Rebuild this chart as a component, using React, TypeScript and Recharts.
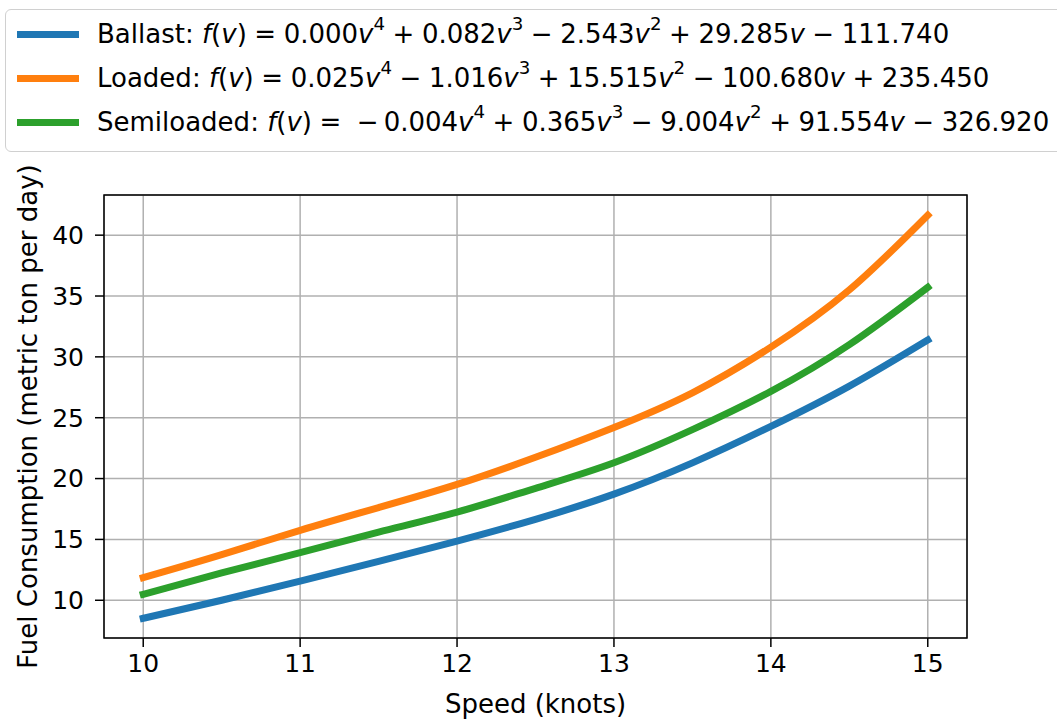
import React from "react";
import {
  LineChart,
  Line,
  XAxis,
  YAxis,
  CartesianGrid,
  ReferenceArea,
  Legend,
} from "recharts";

const speeds = [10, 10.5, 11, 11.5, 12, 12.5, 13, 13.5, 14, 14.5, 15];
const ballast = [8.52, 10.0, 11.58, 13.2, 14.86, 16.65, 18.72, 21.29, 24.29, 27.6, 31.39];
const loaded = [11.86, 13.75, 15.75, 17.62, 19.52, 21.75, 24.2, 27.05, 30.8, 35.5, 41.64];
const semiloaded = [10.49, 12.25, 13.91, 15.6, 17.24, 19.2, 21.3, 24.02, 27.16, 31.0, 35.71];

const xTicks = [10, 11, 12, 13, 14, 15];
const yTicks = [10, 15, 20, 25, 30, 35, 40];
const xDomain = [9.75, 15.25];
const yDomain = [6.9, 43.3];

const FONT = "'DejaVu Sans', sans-serif";

const data = speeds.map((s, i) => ({
  speed: s,
  ballast: ballast[i],
  loaded: loaded[i],
  semiloaded: semiloaded[i],
}));

type Term = { sign: string; coef: string; pow?: string; v?: boolean };

const legendRows: { name: string; color: string; terms: Term[] }[] = [
  {
    name: "Ballast",
    color: "#1f77b4",
    terms: [
      { sign: "", coef: "0.000", v: true, pow: "4" },
      { sign: "+", coef: "0.082", v: true, pow: "3" },
      { sign: "−", coef: "2.543", v: true, pow: "2" },
      { sign: "+", coef: "29.285", v: true },
      { sign: "−", coef: "111.740" },
    ],
  },
  {
    name: "Loaded",
    color: "#ff7f0e",
    terms: [
      { sign: "", coef: "0.025", v: true, pow: "4" },
      { sign: "−", coef: "1.016", v: true, pow: "3" },
      { sign: "+", coef: "15.515", v: true, pow: "2" },
      { sign: "−", coef: "100.680", v: true },
      { sign: "+", coef: "235.450" },
    ],
  },
  {
    name: "Semiloaded",
    color: "#2ca02c",
    terms: [
      { sign: "−", coef: "0.004", v: true, pow: "4" },
      { sign: "+", coef: "0.365", v: true, pow: "3" },
      { sign: "−", coef: "9.004", v: true, pow: "2" },
      { sign: "+", coef: "91.554", v: true },
      { sign: "−", coef: "326.920" },
    ],
  },
];

function Formula({ terms }: { terms: Term[] }) {
  return (
    <span>
      <i>f</i>(<i>v</i>)<span style={{ margin: "0 0.29em" }}>=</span>
      {terms.map((t, i) => (
        <span key={i}>
          {t.sign && (
            <span style={{ margin: i === 0 ? "0 0.2em 0 0.3em" : "0 0.29em" }}>{t.sign}</span>
          )}
          {t.coef}
          {t.v && <i>v</i>}
          {t.pow && (
            <span style={{ fontSize: "0.7em", position: "relative", top: "-0.7em", lineHeight: 0 }}>
              {t.pow}
            </span>
          )}
        </span>
      ))}
    </span>
  );
}

function renderLegend() {
  return (
    <div
      style={{
        boxSizing: "border-box",
        width: 1070,
        height: 143,
        border: "1.5px solid #d0d0d0",
        borderRadius: 6,
        background: "rgba(255,255,255,0.8)",
        fontFamily: FONT,
        fontSize: 26,
        color: "#000",
        paddingTop: 2,
      }}
    >
      {legendRows.map((r) => (
        <div key={r.name} style={{ display: "flex", alignItems: "center", height: 44, whiteSpace: "nowrap" }}>
          <span style={{ display: "inline-block", width: 62, height: 7, background: r.color, marginLeft: 11, marginRight: 18 }} />
          <span>
            {r.name}: <Formula terms={r.terms} />
          </span>
        </div>
      ))}
    </div>
  );
}

export default function App() {
  return (
    <div style={{ position: "absolute", left: 0, top: 0, width: 1057, height: 720, overflow: "hidden", background: "#fff" }}>
      <LineChart width={1057} height={720} data={data} margin={{ top: 195, right: 90, bottom: 0, left: 0 }}>
        <CartesianGrid stroke="#b0b0b0" strokeWidth={1.5} />
        <XAxis
          dataKey="speed"
          type="number"
          domain={xDomain}
          ticks={xTicks}
          height={82}
          tickSize={9}
          tickMargin={7}
          axisLine={false}
          tickLine={{ stroke: "#000", strokeWidth: 1.5 }}
          tick={{ fill: "#000", fontSize: 25, fontFamily: FONT }}
          label={{ value: "Speed (knots)", position: "insideBottom", offset: 7, fill: "#000", fontSize: 26, fontFamily: FONT }}
        />
        <YAxis
          type="number"
          domain={yDomain}
          ticks={yTicks}
          width={104}
          tickSize={9}
          tickMargin={11}
          axisLine={false}
          tickLine={{ stroke: "#000", strokeWidth: 1.5 }}
          tick={{ fill: "#000", fontSize: 25, fontFamily: FONT }}
          label={{
            value: "Fuel Consumption (metric ton per day)",
            angle: -90,
            position: "insideLeft",
            offset: 28,
            fill: "#000",
            fontSize: 26,
            fontFamily: FONT,
            style: { textAnchor: "middle" },
          }}
        />
        <Line type="natural" dataKey="ballast" stroke="#1f77b4" strokeWidth={7} dot={false} strokeLinecap="square" isAnimationActive={false} />
        <Line type="natural" dataKey="loaded" stroke="#ff7f0e" strokeWidth={7} dot={false} strokeLinecap="square" isAnimationActive={false} />
        <Line type="natural" dataKey="semiloaded" stroke="#2ca02c" strokeWidth={7} dot={false} strokeLinecap="square" isAnimationActive={false} />
        <ReferenceArea
          x1={xDomain[0]}
          x2={xDomain[1]}
          y1={yDomain[0]}
          y2={yDomain[1]}
          fill="none"
          stroke="#000"
          strokeWidth={1.5}
          ifOverflow="visible"
        />
        <Legend
          layout="vertical"
          align="center"
          verticalAlign="middle"
          content={renderLegend}
          wrapperStyle={{ top: 9, left: 5, width: 1070, height: 143 }}
        />
      </LineChart>
    </div>
  );
}
